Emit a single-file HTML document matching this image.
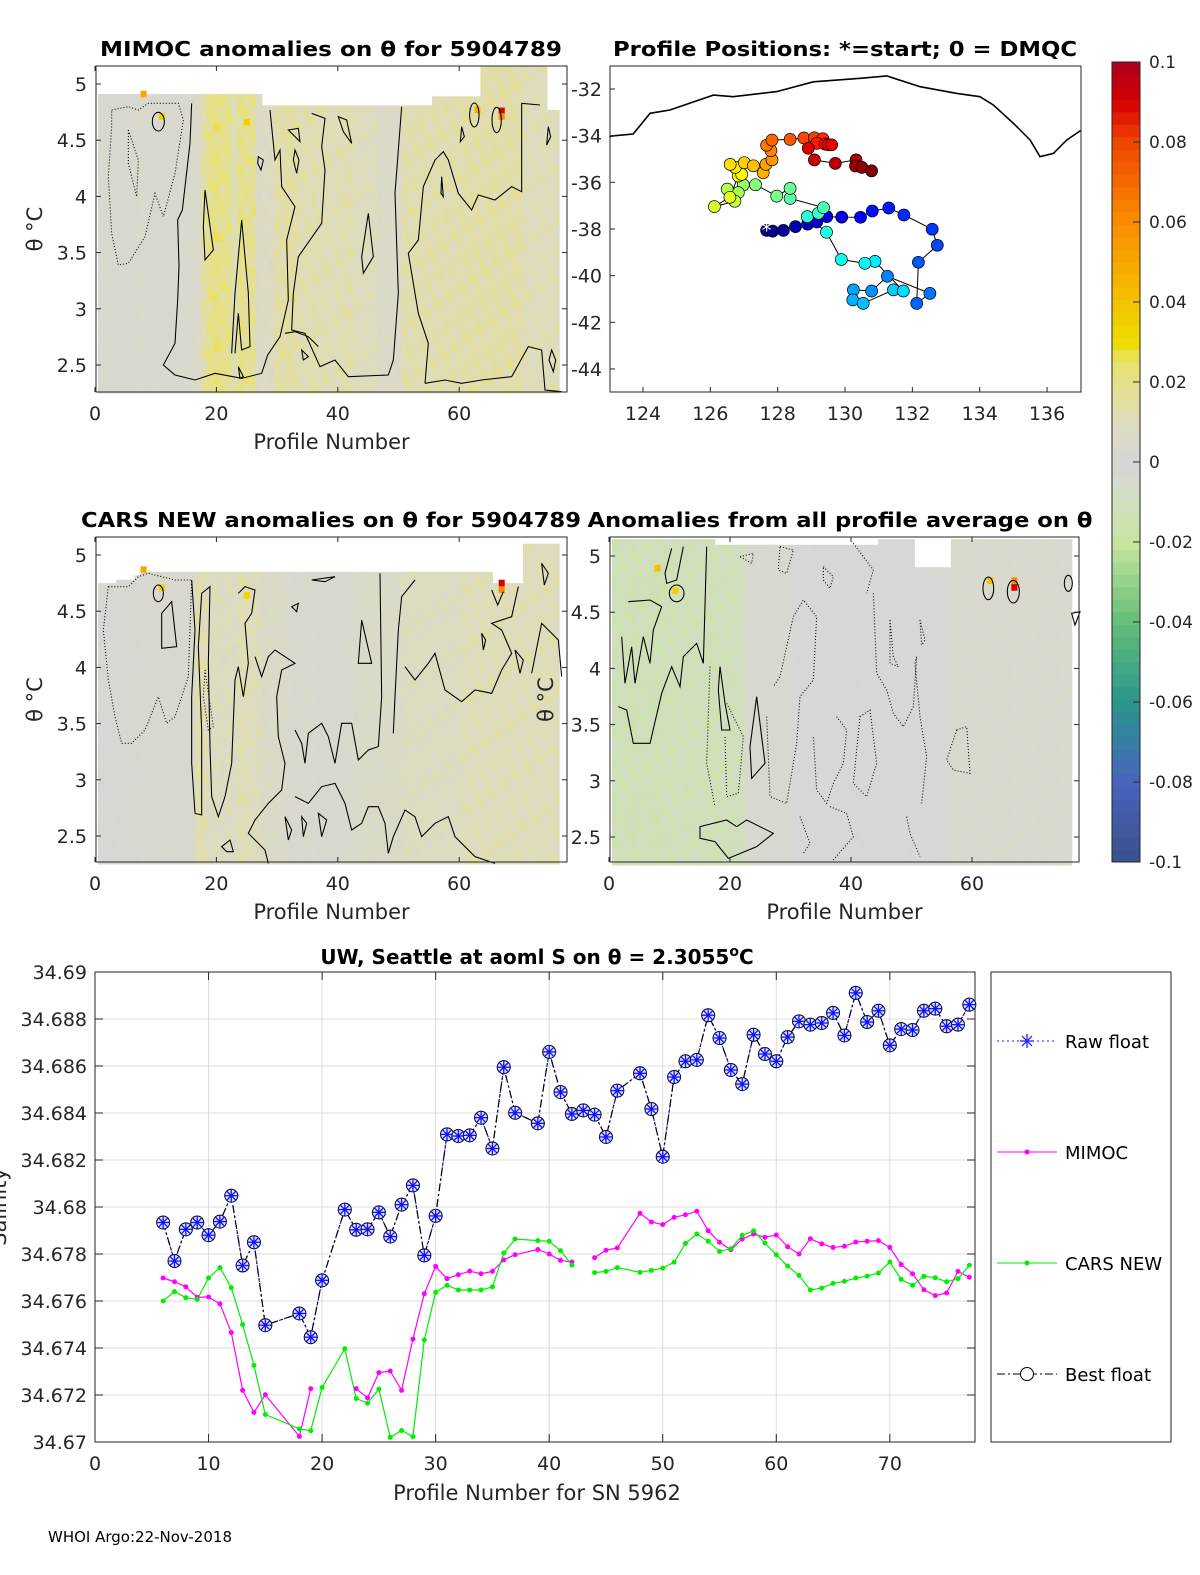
<!DOCTYPE html>
<html><head><meta charset="utf-8"><style>
html,body{margin:0;padding:0;background:#fff;overflow:hidden}
svg{display:block;font-family:"DejaVu Sans","Liberation Sans",sans-serif}
</style></head><body>
<svg id="fig" width="1200" height="1575" viewBox="0 0 1200 1575" xmlns="http://www.w3.org/2000/svg">
<rect width="1200" height="1575" fill="#fff"/>
<g id="heatA"></g>
<g id="heatC"></g>
<g id="heatD"></g>
<!-- contours top-left -->
<g transform="translate(95,60) scale(0.33333)" fill="none" stroke="#000" stroke-width="3.2">
<path d="M50,150 L100,140 L130,150 L160,130 L250,130 L265,180 L240,340 L205,470 L180,400 L150,530 L100,610 L70,615 L50,520 L40,350 L50,200 Z" stroke-dasharray="3,6"/>
<path d="M100,210 L130,300 L125,410 L100,310 Z" stroke-dasharray="3,6"/>
<path d="M290,130 L285,250 L262,450 L248,480 L252,620 L248,720 L240,850 L205,915 L240,945 L300,960 L360,940 L440,955 L500,940 L518,885 L555,830 L580,720 L575,540 L600,440 L560,380 L555,270 L540,300 L530,200 L525,150"/>
<path d="M650,160 L690,175 L680,260 L690,330 L680,490 L610,590 L595,700 L590,810 L630,820 L675,920 L720,900 L760,950 L880,945 L895,900 L910,700 L900,400 L920,140"/>
<path d="M990,970 L1000,850 L970,760 L940,580 L970,540 L985,380 L1020,300 L1045,275 L1060,300 L1090,400 L1130,450 L1150,405 L1200,420 L1250,380 L1280,395 L1280,130 L1335,135"/>
<path d="M990,970 L1050,960 L1100,970 L1160,960 L1250,950 L1300,860 L1340,870 L1350,990 L1400,995"/>
<path d="M330,390 L355,570 L330,600 L325,500 Z"/>
<path d="M410,880 L420,700 L440,480 L460,700 L465,860 L440,870 L430,760 L420,880"/>
<path d="M820,460 L835,590 L805,640 L800,590 Z"/>
<path d="M570,820 L600,815 L640,830 L670,860"/>
<path d="M620,870 L640,890 L625,900 Z"/><path d="M430,920 L445,950 L435,955 Z"/>
<ellipse cx="190" cy="185" rx="18" ry="28"/>
<ellipse cx="1138" cy="165" rx="14" ry="36"/>
<ellipse cx="1205" cy="180" rx="14" ry="38"/>
<path d="M580,210 L610,205 L615,245 Z"/><path d="M600,270 L612,300 L605,340 L595,300 Z"/>
<path d="M730,170 L755,180 L770,250 L745,215 Z"/><path d="M1100,200 L1108,230 L1096,245 Z"/>
<path d="M1360,200 L1367,230 L1355,255 Z"/><path d="M1370,870 L1382,900 L1375,935 L1362,900 Z"/>
<path d="M490,290 L505,300 L498,330 L488,310 Z"/><path d="M1040,350 L1045,410 L1038,400 Z"/>
</g>
<!-- contours middle-left -->
<g transform="translate(95,530) scale(0.33333)" fill="none" stroke="#000" stroke-width="3.2">
<path d="M40,170 L100,170 L130,140 L160,130 L240,150 L290,150 L280,440 L240,560 L215,580 L190,500 L150,600 L110,640 L80,640 L60,560 L40,450 L25,300 Z" stroke-dasharray="3,6"/>
<path d="M330,420 L355,590 L340,600 L325,500 Z" stroke-dasharray="3,6"/>
<path d="M200,250 L230,215 L245,350 L200,355 Z"/>
<path d="M290,150 L300,300 L290,500 L290,700 L300,850 L320,855 L320,600 L310,350 L320,190 L345,170 L340,400 L345,650 L350,800 L370,860 L390,800 L410,700 L420,450 L430,410 L445,500 L460,400 L450,280 L470,250 L480,180 L450,170 L430,190"/>
<path d="M480,380 L500,440 L520,380 L540,360 L600,400 L560,420 L545,500 L550,620 L570,700 L560,780 L520,820 L480,870 L460,910 L510,960 L520,1000"/>
<path d="M600,600 L620,640 L630,700 L640,610 L680,580 L700,620 L720,700 L740,580 L770,580 L790,690 L820,660 L850,650 L860,500 L855,130"/>
<path d="M600,800 L640,820 L680,770 L720,760 L750,820 L770,900 L800,880 L820,830 L850,830 L870,880 L880,970 L895,920 L930,840 L960,860 L980,920 L1020,880 L1060,860 L1080,920 L1140,980 L1200,1000"/>
<path d="M895,610 L900,500 L910,300 L920,200 L960,150"/>
<path d="M930,410 L960,450 L1000,400 L1020,370 L1050,480 L1100,515 L1140,480 L1190,490 L1220,420 L1250,370 L1220,300 L1190,280 L1250,260 L1270,170"/>
<path d="M1310,430 L1340,280 L1360,300 L1390,330 L1400,440"/>
<ellipse cx="190" cy="190" rx="15" ry="25"/>
<path d="M1190,180 L1208,225 L1225,185"/>
<path d="M650,150 L720,140 L690,155 Z"/><path d="M800,270 L830,400 L790,400 Z"/>
<path d="M590,230 L610,220 L605,245 Z"/><path d="M1160,310 L1172,330 L1165,360 Z"/><path d="M1260,360 L1285,390 L1275,430 Z"/>
<path d="M570,860 L590,900 L580,930 Z"/><path d="M620,860 L635,880 L625,920 Z"/><path d="M670,850 L695,870 L680,920 Z"/>
<path d="M380,950 L405,930 L415,965 L395,965 Z"/><path d="M1340,100 L1360,130 L1348,165 Z"/>
</g>
<!-- contours middle-right -->
<g transform="translate(600,530) scale(0.33333)" fill="none" stroke="#000" stroke-width="3.2">
<path d="M55,530 L80,540 L100,640 L150,640 L185,490 L215,410 L240,470 L250,380 L290,340 L310,400 L320,50"/>
<path d="M65,320 L75,460 L95,350 L105,460 L130,320 L150,400 L160,300 L185,230 L150,210 L85,215"/>
<path d="M250,50 L230,150 L200,160 L195,130 L215,55"/>
<path d="M360,410 L375,520 L390,600 L365,600 L355,480 Z"/>
<path d="M470,500 L495,700 L455,745 L450,650 Z"/>
<path d="M300,890 L380,870 L410,890 L440,870 L520,910 L470,950 L385,985 L345,935 L300,925 Z"/>
<ellipse cx="230" cy="190" rx="22" ry="25"/>
<ellipse cx="1165" cy="175" rx="16" ry="34"/><ellipse cx="1240" cy="185" rx="18" ry="34"/>
<ellipse cx="1405" cy="160" rx="12" ry="24"/><path d="M1415,250 L1440,245 L1425,285 Z"/>
<g stroke-dasharray="3,6">
<path d="M330,410 L320,700 L345,830"/>
<path d="M500,560 L510,800 L560,820 L590,640 L600,500 L640,450 L650,260 L610,210 L580,260 L560,350 L540,440 L520,470"/>
<path d="M820,190 L830,430 L860,480 L880,550 L910,590 L940,530 L950,380 L945,400 L960,560 L980,680 L965,820"/>
<path d="M710,560 L740,600 L730,700 L700,760 L680,820 L650,780 L640,620"/>
<path d="M760,40 L820,120 L800,190"/>
<path d="M380,520 L430,620 L415,790 L380,800 L375,620"/>
<path d="M420,80 L460,70 L455,100 Z"/><path d="M540,50 L580,60 L560,130 L535,120 Z"/>
<path d="M670,110 L700,140 L690,175 L670,150 Z"/>
<path d="M780,560 L810,540 L830,700 L800,800 L760,760 Z"/>
<path d="M1070,600 L1100,590 L1110,730 L1060,720 L1040,690 Z"/>
<path d="M870,270 L880,380 L895,410 L870,400 Z"/><path d="M960,270 L975,330 L965,345 Z"/>
<path d="M600,860 L630,940 L610,970"/><path d="M690,830 L740,850 L760,920 L700,990"/>
<path d="M920,860 L930,910 L960,980"/>
</g>
</g>
<!-- Map -->
<g id="map"></g>
<!-- Colorbar -->
<g id="cbar"></g>
<!-- axes boxes & labels -->
<g id="axes" font-size="19" fill="#262626"></g>
<!-- bottom chart -->
<g id="salt"></g>
<text x="48" y="1542" font-size="15" fill="#000">WHOI Argo:22-Nov-2018</text>
</svg>
<script>
// ===== Salinity chart data =====
const profiles = [6,7,8,9,10,11,12,13,14,15,18,19,20,22,23,24,25,26,27,28,29,30,31,32,33,34,35,36,37,39,40,41,42,43,44,45,46,48,49,50,51,52,53,54,55,56,57,58,59,60,61,62,63,64,65,66,67,68,69,70,71,72,73,74,75,76,77];
const bestFloat = [34.67934,34.67770,34.67905,34.67934,34.67880,34.67938,34.68048,34.67751,34.67850,34.67497,
34.67547,34.67446,34.67688,
34.67989,34.67903,34.67905,34.67977,34.67874,34.68010,34.68092,34.67794,34.67962,34.68309,34.68302,34.68305,34.68380,34.68249,34.68595,34.68401,
34.68356,34.68660,34.68489,34.68396,34.68411,34.68393,34.68298,34.68495,
34.68569,34.68417,34.68214,34.68553,34.68620,34.68626,34.68816,34.68719,34.68583,34.68523,34.68733,34.68651,34.68620,34.68723,34.68790,34.68776,34.68783,34.68826,34.68730,34.68911,34.68787,34.68835,34.68688,34.68757,34.68753,34.68835,34.68844,34.68769,34.68776,34.68861];
const mimocS = [34.67698,34.67682,34.67660,34.67616,34.67617,34.67588,34.67466,34.67220,34.67126,34.67201,
34.67024,34.67227,null,
null,34.67227,34.67188,34.67295,34.67302,34.67220,34.67438,34.67631,34.67747,34.67695,34.67712,34.67727,34.67716,34.67726,34.67775,34.67797,
34.67819,34.67800,34.67773,34.67766,null,34.67784,34.67816,34.67826,
34.67973,34.67936,34.67925,34.67956,34.67967,34.67982,34.67899,34.67850,34.67818,34.67864,34.67885,34.67871,34.67881,34.67831,34.67800,34.67865,34.67843,34.67828,34.67833,34.67851,34.67854,34.67857,34.67828,34.67755,34.67716,34.67648,34.67623,34.67634,34.67726,34.67701];
const carsS = [34.67600,34.67640,34.67614,34.67607,34.67698,34.67742,34.67657,34.67500,34.67326,34.67117,
34.67056,34.67048,34.67232,
34.67397,34.67185,34.67165,34.67225,34.67020,34.67049,34.67023,34.67434,34.67637,34.67667,34.67647,34.67647,34.67647,34.67660,34.67804,34.67864,
34.67857,34.67854,34.67814,34.67753,null,34.67721,34.67726,34.67742,
34.67722,34.67730,34.67740,34.67765,34.67845,34.67885,34.67854,34.67811,34.67823,34.67879,34.67899,34.67847,34.67797,34.67749,34.67709,34.67647,34.67655,34.67675,34.67684,34.67698,34.67706,34.67719,34.67766,34.67692,34.67667,34.67705,34.67699,34.67682,34.67695,34.67752];
const saltYTicks = [34.67,34.672,34.674,34.676,34.678,34.68,34.682,34.684,34.686,34.688,34.69];
const saltYLabels = ["34.67","34.672","34.674","34.676","34.678","34.68","34.682","34.684","34.686","34.688","34.69"];
const saltXTicks = [0,10,20,30,40,50,60,70];

// ===== Map data =====
const trackLon = [127.67,127.85,128.17,128.53,128.89,129.16,129.46,129.90,130.46,130.81,131.30,131.75,132.59,132.74,132.18,132.13,132.52,131.26,130.79,130.25,130.23,130.54,131.44,131.73,130.89,130.59,129.89,129.45,128.88,129.21,129.36,128.37,128.37,127.97,127.34,126.98,126.83,126.50,126.73,126.12,126.58,126.83,126.93,126.74,126.59,127.01,127.28,127.57,127.65,127.83,127.80,127.67,127.83,128.37,128.78,129.09,129.34,129.16,129.41,129.50,129.60,128.91,129.09,129.71,130.33,130.31,130.50,130.79];
const trackLat = [-38.06,-38.09,-38.06,-37.90,-37.79,-37.70,-37.47,-37.49,-37.50,-37.23,-37.10,-37.40,-38.01,-38.70,-39.43,-41.19,-40.76,-40.03,-40.66,-40.61,-41.04,-41.19,-40.61,-40.66,-39.39,-39.47,-39.31,-38.14,-37.47,-37.33,-37.09,-36.69,-36.26,-36.59,-36.10,-36.11,-36.44,-36.29,-36.81,-37.04,-36.64,-35.73,-35.66,-35.36,-35.23,-35.16,-35.29,-35.59,-35.23,-35.04,-34.64,-34.41,-34.19,-34.16,-34.10,-34.09,-34.13,-34.33,-34.36,-34.39,-34.39,-34.54,-35.04,-35.19,-35.04,-35.30,-35.36,-35.51];
const coastLon = [123.0,123.09,123.71,124.21,124.80,126.09,126.68,127.97,129.06,130.45,131.24,132.23,133.32,134.01,134.41,135.00,135.50,135.79,136.19,136.58,137.0];
const coastLat = [-34.05,-34.01,-33.93,-33.04,-32.90,-32.26,-32.33,-32.11,-31.69,-31.54,-31.44,-31.90,-32.19,-32.33,-32.69,-33.47,-34.19,-34.90,-34.76,-34.19,-33.78];
const mapXTicks = [124,126,128,130,132,134,136];
const mapYTicks = [-32,-34,-36,-38,-40,-42,-44];

// ===== Heatmap column anomalies (profile 1..76) =====
const mimocCol = [0.003,0.003,0.003,0.003,0.003,0.003,0.004,0.004,0.003,0.004,0.003,0.003,0.003,0.004,0.004,0.004,0.005,0.015,0.02,0.021,0.02,0.019,0.012,0.02,0.018,0.018,0.006,0.008,0.008,0.014,0.014,0.015,0.014,0.012,0.012,0.013,0.012,0.012,0.011,0.012,0.012,0.013,0.01,0.01,0.01,0.01,0.006,0.006,0.006,0.006,0.013,0.013,0.013,0.013,0.013,0.013,0.013,0.013,0.013,0.013,0.014,0.014,0.014,0.014,0.014,0.014,0.014,0.014,0.014,0.014,0.011,0.011,0.011,0.011,0.011,0.011];
const carsCol = [0.002,0.001,0.001,0.002,0.002,0.002,0.002,0.003,0.003,0.003,0.003,0.003,0.003,0.003,0.003,0.003,0.013,0.012,0.008,0.01,0.008,0.01,0.008,0.012,0.011,0.01,0.01,0.006,0.006,0.006,0.006,0.004,0.004,0.004,0.004,0.004,0.003,0.003,0.003,0.003,0.004,0.004,0.005,0.006,0.006,0.006,0.006,0.006,0.006,0.006,0.009,0.009,0.009,0.009,0.009,0.009,0.009,0.009,0.009,0.009,0.011,0.011,0.011,0.011,0.011,0.011,0.011,0.011,0.011,0.011,0.011,0.011,0.011,0.011,0.011,0.011];
const avgCol = [-0.012,-0.012,-0.012,-0.013,-0.012,-0.012,-0.012,-0.013,-0.012,-0.012,-0.012,-0.011,-0.012,-0.012,-0.011,-0.012,-0.012,-0.012,-0.011,-0.012,-0.011,-0.01,-0.004,-0.004,-0.005,-0.004,-0.004,-0.003,-0.004,-0.004,0.001,0.001,0.001,0.001,0.001,0.001,0.001,0.001,0.001,0.001,0.001,0.001,0.001,0.001,0.001,0.001,0.001,0.001,0.001,0.001,0.001,0.001,0.001,0.001,0.001,0.001,0.004,0.004,0.004,0.004,0.004,0.004,0.004,0.004,0.004,0.004,0.004,0.004,0.004,0.004,0.004,0.004,0.004,0.004,0.004,0.004];
const mimocTop = [4.91,4.91,4.91,4.91,4.91,4.91,4.91,4.91,4.91,4.91,4.91,4.91,4.91,4.91,4.91,4.91,4.91,4.91,4.91,4.91,4.91,4.91,4.91,4.91,4.91,4.91,4.91,4.81,4.81,4.81,4.81,4.81,4.81,4.81,4.81,4.81,4.81,4.81,4.81,4.81,4.81,4.81,4.81,4.81,4.81,4.81,4.81,4.81,4.81,4.81,4.81,4.81,4.81,4.81,4.81,4.89,4.89,4.89,4.89,4.89,4.89,4.89,4.89,5.16,5.16,5.16,5.16,5.16,5.16,5.16,5.16,5.16,5.16,5.16,4.77,4.77];
const carsTop = [4.75,4.75,4.75,4.78,4.78,4.78,4.82,4.85,4.85,4.85,4.85,4.85,4.85,4.85,4.85,4.85,4.85,4.85,4.85,4.85,4.85,4.85,4.85,4.85,4.85,4.85,4.85,4.85,4.85,4.85,4.85,4.85,4.85,4.85,4.85,4.85,4.85,4.85,4.85,4.85,4.85,4.85,4.85,4.85,4.85,4.85,4.85,4.85,4.85,4.85,4.85,4.85,4.85,4.85,4.85,4.85,4.85,4.85,4.85,4.85,4.85,4.85,4.85,4.85,4.85,4.75,4.75,4.75,4.75,4.75,5.1,5.1,5.1,5.1,5.1,5.1];
const avgTop = [5.15,5.15,5.15,5.15,5.15,5.15,5.15,5.15,5.15,5.15,5.15,5.15,5.15,5.15,5.15,5.15,5.15,5.1,5.1,5.1,5.1,5.1,5.1,5.1,5.1,5.1,5.1,5.1,5.1,5.1,5.1,5.1,5.1,5.1,5.1,5.1,5.1,5.1,5.1,5.1,5.1,5.1,5.1,5.1,5.15,5.15,5.15,5.15,5.15,5.15,4.9,4.9,4.9,4.9,4.9,4.9,5.15,5.15,5.15,5.15,5.15,5.15,5.15,5.15,5.15,5.15,5.15,5.15,5.15,5.15,5.15,5.15,5.15,5.15,5.15,5.15];
const rowFactor = [1,0.8,1.15,0.9,1.25,0.85,1,1.2,0.9,1.05,0.7,1.1,0.95];
const mimocHotP = [8,11,25,63,67,67], mimocHotT = [4.89,4.69,4.64,4.75,4.74,4.69], mimocHotV = [0.05,0.035,0.035,0.045,0.09,0.06];
const carsHotP = [8,11,25,67,67], carsHotT = [4.85,4.69,4.62,4.73,4.67], carsHotV = [0.05,0.035,0.032,0.09,0.06];
const avgHotP = [8,11,63,67,67], avgHotT = [4.87,4.67,4.76,4.76,4.7], avgHotV = [0.04,0.035,0.04,0.06,0.09];
const cbarTicks = [0.1,0.08,0.06,0.04,0.02,0,-0.02,-0.04,-0.06,-0.08,-0.1];
const cbarLabels = ["0.1","0.08","0.06","0.04","0.02","0","-0.02","-0.04","-0.06","-0.08","-0.1"];

const NS = "http://www.w3.org/2000/svg";
function mk(tag, attrs, parent){const e=document.createElementNS(NS,tag);for(const k in attrs)e.setAttribute(k,attrs[k]);if(parent)parent.appendChild(e);return e;}

const cStops=[[-0.1,[58,80,140]],[-0.08,[72,100,190]],[-0.06,[40,150,140]],[-0.04,[100,190,120]],[-0.02,[200,230,160]],[-0.005,[214,218,206]],[0,[214,214,214]],[0.01,[222,220,190]],[0.025,[232,226,110]],[0.03,[238,220,0]],[0.045,[246,180,0]],[0.06,[250,140,0]],[0.08,[240,70,0]],[0.09,[216,0,0]],[0.1,[170,0,32]]];
function cmap(v){v=Math.max(-0.1,Math.min(0.1,v));for(let i=1;i<cStops.length;i++){if(v<=cStops[i][0]){const a=cStops[i-1],b=cStops[i];const t=(v-a[0])/(b[0]-a[0]);const c=a[1].map((x,j)=>Math.round(x+(b[1][j]-x)*t));return `rgb(${c[0]},${c[1]},${c[2]})`;}}return 'rgb(170,0,32)';}

function heat(gid, px0, sx, y5, sy, cols, tops, bottom, hp, ht, hv){
  const g=document.getElementById(gid);
  const yOf=t=>y5+(5-t)*sy;
  const dt=0.075;
  for(let p=1;p<=cols.length;p++){
    const x=px0+(p-0.5)*sx;
    for(let t=2.25;t<tops[p-1]-0.001;t+=dt){
      const r=Math.round((t-2.25)/dt);
      const v=cols[p-1]*rowFactor[(r*7+p*3)%rowFactor.length];
      const top=Math.min(t+dt,tops[p-1]);
      const c=mk('rect',{x:x.toFixed(2),y:yOf(top).toFixed(2),width:(sx+0.4).toFixed(2),height:((top-t)*sy+0.4).toFixed(2),fill:cmap(v)},g);
      
      
    }
  }
  for(let i=0;i<hp.length;i++){
    const c=mk('rect',{x:(px0+(hp[i]-0.5)*sx).toFixed(2),y:yOf(ht[i]+0.05).toFixed(2),width:sx.toFixed(2),height:(0.05*sy+1).toFixed(2),fill:cmap(hv[i])},g);
    
    
  }
}
heat('heatA',95,6.07,84,112.4,mimocCol,mimocTop,2.26,mimocHotP,mimocHotT,mimocHotV);
heat('heatC',95,6.07,555,112.4,carsCol,carsTop,2.26,carsHotP,carsHotT,carsHotV);
heat('heatD',609,6.05,556,112.4,avgCol,avgTop,2.26,avgHotP,avgHotT,avgHotV);

const A=document.getElementById('axes');
function txt(x,y,s,attrs,name){const t=mk('text',Object.assign({x:x,y:y},attrs||{}),A);t.textContent=s;return t;}
function box(x1,y1,x2,y2,name){const r=mk('rect',{x:x1,y:y1,width:x2-x1,height:y2-y1,fill:'none',stroke:'#262626','stroke-width':1},A);}
function heatAxes(bx1,by1,bx2,by2,px0,sx,y5,sy,pre,yLabelX,tickLabelX){
  box(bx1,by1,bx2,by2,pre+'-axes-box');
  [0,20,40,60].forEach(v=>{const x=px0+v*sx;mk('line',{x1:x,y1:by2,x2:x,y2:by2-5,stroke:'#262626'},A);mk('line',{x1:x,y1:by1,x2:x,y2:by1+5,stroke:'#262626'},A);txt(x,by2+28,String(v),{'text-anchor':'middle'},pre+'-x-tick-label');});
  [2.5,3,3.5,4,4.5,5].forEach(v=>{const y=y5+(5-v)*sy;mk('line',{x1:bx1,y1:y,x2:bx1+5,y2:y,stroke:'#262626'},A);mk('line',{x1:bx2,y1:y,x2:bx2-5,y2:y,stroke:'#262626'},A);txt(tickLabelX,y+7,String(v),{'text-anchor':'end'},pre+'-y-tick-label');});
  txt((bx1+bx2)/2,by2+57,'Profile Number',{'text-anchor':'middle','font-size':21},pre+'-x-axis-title');
  txt(0,0,'θ °C',{'text-anchor':'middle','font-size':21,transform:`translate(${yLabelX},${(by1+by2)/2}) rotate(-90)`},pre+'-y-axis-title');
}
heatAxes(96,66,567,392,95,6.07,84,112.4,'mimoc',42,87);
heatAxes(96,537,567,862,95,6.07,555,112.4,'cars',42,87);
heatAxes(610,537,1079,862,609,6.05,556,112.4,'avg',553,601);
txt(331,56,'MIMOC anomalies on θ  for 5904789',{'text-anchor':'middle','font-size':20,'font-weight':'bold',fill:'#000',textLength:462,lengthAdjust:'spacingAndGlyphs'},'mimoc-title');
txt(845,56,'Profile Positions: *=start; 0 = DMQC',{'text-anchor':'middle','font-size':20,'font-weight':'bold',fill:'#000',textLength:464,lengthAdjust:'spacingAndGlyphs'},'map-title');
txt(331,527,'CARS NEW anomalies on θ for 5904789',{'text-anchor':'middle','font-size':20,'font-weight':'bold',fill:'#000',textLength:500,lengthAdjust:'spacingAndGlyphs'},'cars-title');
txt(840,527,'Anomalies from all profile average on θ',{'text-anchor':'middle','font-size':20,'font-weight':'bold',fill:'#000',textLength:505,lengthAdjust:'spacingAndGlyphs'},'avg-title');

// ===== Map =====
const M=document.getElementById('map');
const lonX=l=>643+(l-124)*33.67, latY=l=>89+(-32-l)*23.33;
box(610,66,1081,392,'map-axes-box');
mapXTicks.forEach(v=>{const x=lonX(v);mk('line',{x1:x,y1:392,x2:x,y2:387,stroke:'#262626'},A);txt(x,420,String(v),{'text-anchor':'middle'},'map-x-tick-label');});
mapYTicks.forEach(v=>{const y=latY(v);mk('line',{x1:610,y1:y,x2:615,y2:y,stroke:'#262626'},A);txt(602,y+7,String(v),{'text-anchor':'end'},'map-y-tick-label');});
const coast=mk('polyline',{points:coastLon.map((l,i)=>lonX(l).toFixed(1)+','+latY(coastLat[i]).toFixed(1)).join(' '),fill:'none',stroke:'#000','stroke-width':1.6},M);


const tr=mk('polyline',{points:trackLon.map((l,i)=>lonX(l).toFixed(1)+','+latY(trackLat[i]).toFixed(1)).join(' '),fill:'none',stroke:'#000','stroke-width':1},M);


function jet(t){const r=Math.max(0,Math.min(1,Math.min(4*t-1.5,-4*t+4.5))),g=Math.max(0,Math.min(1,Math.min(4*t-0.5,-4*t+3.5))),b=Math.max(0,Math.min(1,Math.min(4*t+0.5,-4*t+2.5)));return `rgb(${Math.round(r*255)},${Math.round(g*255)},${Math.round(b*255)})`;}
trackLon.forEach((l,i)=>{const c=mk('circle',{cx:lonX(l).toFixed(1),cy:latY(trackLat[i]).toFixed(1),r:6,fill:jet(i/(trackLon.length-1)),stroke:'#000','stroke-width':0.7},M);});
const st=mk('text',{x:lonX(trackLon[0]),y:latY(trackLat[0])+7,'text-anchor':'middle','font-size':20,fill:'#fff'},M);st.textContent='*';



// ===== Colorbar =====
const CB=document.getElementById('cbar');
const cbY=v=>462-v*4000;
for(let i=0;i<64;i++){const v0=-0.1+i*0.2/64;const r=mk('rect',{x:1112,y:cbY(v0+0.2/64).toFixed(2),width:28,height:(800/64+0.3).toFixed(2),fill:cmap(v0+0.1/64)},CB);}
mk('rect',{x:1112,y:62,width:28,height:800,fill:'none',stroke:'#262626'},CB);
cbarTicks.forEach((v,i)=>{const y=cbY(v);mk('line',{x1:1133,y1:y,x2:1140,y2:y,stroke:'#262626'},CB);const t=mk('text',{x:1149,y:y+6,'font-size':17,fill:'#262626'},CB);t.textContent=cbarLabels[i];});

// ===== Salinity chart =====
const S=document.getElementById('salt');
const sx=v=>95+v*(880/77.5), sy=v=>1442-(v-34.67)*23500;
saltYTicks.forEach((v,i)=>{const y=sy(v);mk('line',{x1:95,y1:y,x2:975,y2:y,stroke:'#dcdcdc'},S);mk('line',{x1:95,y1:y,x2:103,y2:y,stroke:'#262626'},S);mk('line',{x1:975,y1:y,x2:967,y2:y,stroke:'#262626'},S);const t=mk('text',{x:87,y:y+7,'text-anchor':'end','font-size':19,fill:'#262626'},S);t.textContent=saltYLabels[i];});
saltXTicks.forEach(v=>{const x=sx(v);mk('line',{x1:x,y1:972,x2:x,y2:1442,stroke:'#dcdcdc'},S);mk('line',{x1:x,y1:1442,x2:x,y2:1434,stroke:'#262626'},S);mk('line',{x1:x,y1:972,x2:x,y2:980,stroke:'#262626'},S);const t=mk('text',{x:x,y:1470,'text-anchor':'middle','font-size':19,fill:'#262626'},S);t.textContent=String(v);});
const sb=mk('rect',{x:95,y:972,width:880,height:470,fill:'none',stroke:'#262626'},S);


function seg(vals,color,dash,w,name){let d='';let pen=false;vals.forEach((v,i)=>{if(v===null){pen=false;return;}d+=(pen?'L':'M')+sx(profiles[i]).toFixed(1)+','+sy(v).toFixed(1);pen=true;});const p=mk('path',{d:d,fill:'none',stroke:color,'stroke-width':w,'stroke-dasharray':dash},S);}
seg(mimocS,'#ff00ff','none',1.2,'mimoc-line');
seg(carsS,'#00ee00','none',1.2,'cars-line');
seg(bestFloat,'#2020ff','2,3',1.2,'raw-float-line');
seg(bestFloat,'#000','8,3,2,3',1.2,'best-float-line');
mimocS.forEach((v,i)=>{if(v===null)return;const c=mk('circle',{cx:sx(profiles[i]),cy:sy(v),r:2.5,fill:'#ff00ff'},S);});
carsS.forEach((v,i)=>{if(v===null)return;const c=mk('circle',{cx:sx(profiles[i]),cy:sy(v),r:2.5,fill:'#00ee00'},S);});
function star(x,y,r,color,parent){for(let k=0;k<4;k++){const a=k*Math.PI/4;mk('line',{x1:x-r*Math.cos(a),y1:y-r*Math.sin(a),x2:x+r*Math.cos(a),y2:y+r*Math.sin(a),stroke:color,'stroke-width':1.3},parent);}}
bestFloat.forEach((v,i)=>{const x=sx(profiles[i]),y=sy(v);const c=mk('circle',{cx:x,cy:y,r:6.5,fill:'#dde4f8',stroke:'#000','stroke-width':1},S);star(x,y,7,'#1010ff',S);});
const tt=mk('text',{x:537,y:964,'text-anchor':'middle','font-size':20,'font-weight':'bold',fill:'#000'},S);
tt.innerHTML='UW, Seattle at aoml S on θ = 2.3055<tspan dy="-8" font-size="14">o</tspan><tspan dy="8">C</tspan>';


const xl=mk('text',{x:537,y:1500,'text-anchor':'middle','font-size':21,fill:'#262626'},S);xl.textContent='Profile Number for SN 5962';


const yl=mk('text',{x:0,y:0,'text-anchor':'middle','font-size':21,fill:'#262626',transform:'translate(6,1207) rotate(-90)'},S);yl.textContent='Salinity';


const lg=mk('rect',{x:991,y:972,width:180,height:470,fill:'#fff',stroke:'#262626'},S);


const legNames=['Raw float','MIMOC','CARS NEW','Best float'];
const legY=[1041,1152,1263,1374];
legNames.forEach((n,i)=>{const y=legY[i];const g=mk('g',{},S);
 if(i===0){mk('line',{x1:997,y1:y,x2:1057,y2:y,stroke:'#2020ff','stroke-dasharray':'2,3'},g);star(1027,y,7,'#2020ff',g);}
 if(i===1){mk('line',{x1:997,y1:y,x2:1057,y2:y,stroke:'#ff00ff'},g);mk('circle',{cx:1027,cy:y,r:2.5,fill:'#ff00ff'},g);}
 if(i===2){mk('line',{x1:997,y1:y,x2:1057,y2:y,stroke:'#00ee00'},g);mk('circle',{cx:1027,cy:y,r:2.5,fill:'#00ee00'},g);}
 if(i===3){mk('line',{x1:997,y1:y,x2:1057,y2:y,stroke:'#000','stroke-dasharray':'8,3,2,3'},g);mk('circle',{cx:1027,cy:y,r:6.5,fill:'#fff',stroke:'#000'},g);}
 const t=mk('text',{x:1065,y:y+7,'font-size':18,fill:'#000'},g);t.textContent=n;});
</script>
</body></html>
